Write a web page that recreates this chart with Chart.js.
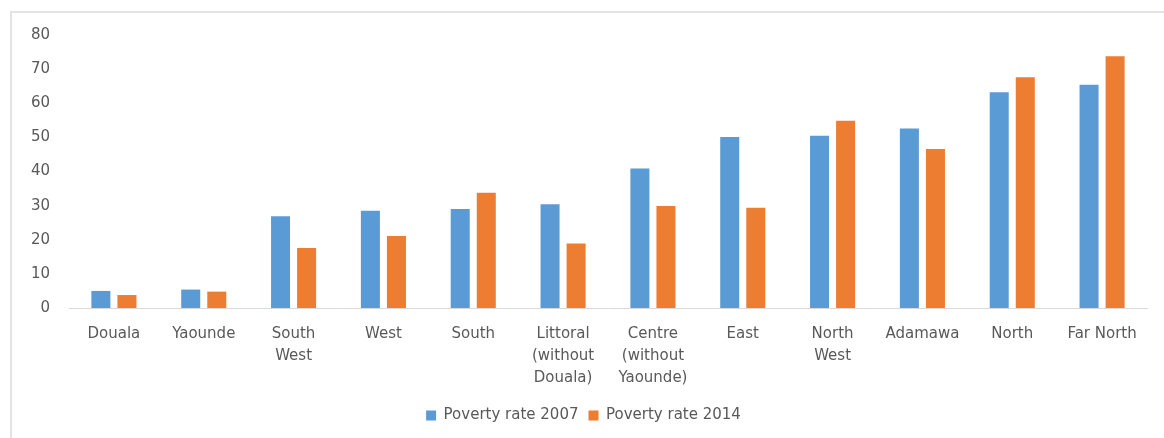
<!DOCTYPE html>
<html>
<head>
<meta charset="utf-8">
<script src="https://cdn.jsdelivr.net/npm/chart.js@4.4.1/dist/chart.umd.min.js"></script>
<style>
  html, body { margin: 0; padding: 0; background: #fff; }
  #wrap { position: relative; width: 1164px; height: 438px; }
  #frame { position: absolute; left: 10px; top: 11px; right: 0; bottom: 0;
           border-left: 2px solid #e3e3e3; border-top: 2px solid #e3e3e3; }
  #cv { position: absolute; left: 0; top: 0; }
</style>
</head>
<body>
<div id="wrap">
  <div id="frame"></div>
  <canvas id="cv" width="1164" height="438"></canvas>
</div>
<script>
const regions = [
  "Douala", "Yaounde", ["South", "West"], "West", "South",
  ["Littoral", "(without", "Douala)"], ["Centre", "(without", "Yaounde)"],
  "East", ["North", "West"], "Adamawa", "North", "Far North"
];
const rate2007 = [5.0, 5.4, 26.9, 28.5, 29.0, 30.4, 40.9, 50.1, 50.5, 52.6, 63.2, 65.4];
const rate2014 = [3.8, 4.8, 17.6, 21.1, 33.8, 18.9, 29.9, 29.4, 54.9, 46.6, 67.6, 73.8];
const yTicks = [0, 10, 20, 30, 40, 50, 60, 70, 80];

const textGray = "#595959";
const fontFamily = "'DejaVu Sans', sans-serif";

const ctx = document.getElementById("cv").getContext("2d");
new Chart(ctx, {
  type: "bar",
  data: {
    labels: regions,
    datasets: [
      {
        label: "Poverty rate 2007",
        data: rate2007,
        backgroundColor: "#5B9BD5",
        categoryPercentage: 0.58,
        barPercentage: 0.73,
      },
      {
        label: "Poverty rate 2014",
        data: rate2014,
        backgroundColor: "#ED7D31",
        categoryPercentage: 0.58,
        barPercentage: 0.73,
      },
    ],
  },
  options: {
    responsive: false,
    animation: false,
    layout: { padding: { left: 20, right: 17, top: 35, bottom: 5 } },
    plugins: {
      tooltip: { enabled: false },
      legend: {
        position: "bottom",
        labels: {
          boxWidth: 10,
          boxHeight: 10,
          padding: 10,
          color: textGray,
          font: { family: fontFamily, size: 15 },
        },
      },
    },
    scales: {
      x: {
        grid: { display: false },
        border: { color: "#d9d9d9", width: 1 },
        ticks: {
          color: textGray,
          maxRotation: 0,
          autoSkip: false,
          padding: 7,
          font: { family: fontFamily, size: 15, lineHeight: 1.47 },
        },
        afterFit: (s) => { s.height = 90; },
      },
      y: {
        min: 0,
        max: 80,
        afterBuildTicks: (s) => { s.ticks = yTicks.map((v) => ({ value: v })); },
        grid: { display: false },
        border: { display: false },
        ticks: {
          color: textGray,
          padding: 11,
          font: { family: fontFamily, size: 15 },
        },
        afterFit: (s) => { s.width = 49; },
      },
    },
  },
});
</script>
</body>
</html>
